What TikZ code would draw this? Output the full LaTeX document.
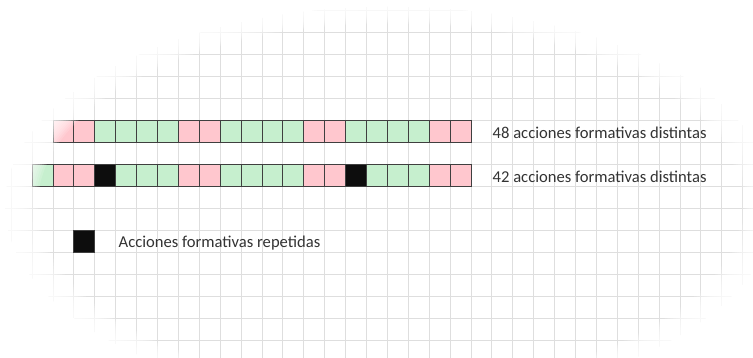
\documentclass[tikz,border=0pt]{standalone}
\usepackage{fontspec}
\setmainfont{Carlito}
\definecolor{colP}{HTML}{FFC7CE}
\definecolor{colG}{HTML}{C6EFCE}
\definecolor{colK}{HTML}{0D0D0D}
\definecolor{gridc}{HTML}{DEDEDE}
\definecolor{borderc}{HTML}{3F3F3F}
\definecolor{txtc}{HTML}{333333}
\tikzset{
  cell/.style={draw=borderc, line width=1pt, minimum width=20.9pt, minimum height=22pt, inner sep=0pt, outer sep=0pt},
  label/.style={anchor=base west, inner sep=0pt, text=txtc, font=\fontsize{16.6}{18}\selectfont},
  gridline/.style={draw=gridc, line width=1pt},
  veil/.style={fill=white, fill opacity=0.14, even odd rule}
}
\begin{document}
\begin{tikzpicture}[x=1pt, y=-1pt]
\useasboundingbox[fill=white] (0,0) rectangle (753,358);
% spreadsheet grid
\foreach \k in {-2,...,33} \draw[gridline] ({53+20.9*\k},0) -- ({53+20.9*\k},358);
\foreach \k in {-5,...,10} \draw[gridline] (0,{121+22*\k}) -- (753,{121+22*\k});
% row 1
\foreach \c [count=\i from 0] in {P,P,G,G,G,G,P,P,G,G,G,G,P,P,G,G,G,G,P,P}
  \node[cell, fill=col\c] (a\i) at ({53+20.9*\i+10.45},132) {};
% row 2
\foreach \c [count=\i from 0] in {G,P,P,K,G,G,G,P,P,G,G,G,G,P,P,K,G,G,G,P,P}
  \node[cell, fill=col\c] (b\i) at ({32.1+20.9*\i+10.45},176) {};
% legend
\node[cell, fill=colK] (leg) at ({53+20.9+10.45},242) {};
\node[label] (t1) at (492.5,138.3) {48 acciones formativas distintas};
\node[label] (t2) at (492.5,182.3) {42 acciones formativas distintas};
\node[label] (t3) at (118.5,247.3) {Acciones formativas repetidas};
% vignette (white fade outside an ellipse)
\foreach \s in {0.965,0.971,...,1.05}
  \fill[veil] (-20,-20) rectangle (780,380) (390,205) ellipse [x radius={365*\s}, y radius={188*\s}];
\fill[white, even odd rule] (-20,-20) rectangle (780,380) (390,205) ellipse [x radius={365*1.055}, y radius={188*1.055}];
\end{tikzpicture}
\end{document}
